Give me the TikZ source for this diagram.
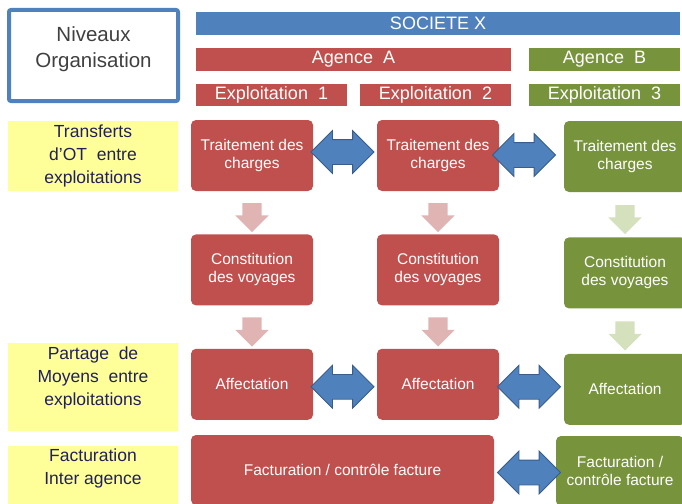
\documentclass[tikz,border=0pt]{standalone}
\usepackage{fontspec}
\setmainfont{Liberation Sans}
\usepackage{xcolor}
\usepackage{tikz}
\usetikzlibrary{positioning}
\usetikzlibrary{calc}
\usetikzlibrary{shapes}
\usetikzlibrary{shapes.arrows}

\definecolor{rouge}{HTML}{C0504D}
\definecolor{vert}{HTML}{77933C}
\definecolor{bleu}{HTML}{4F81BD}
\definecolor{bleufonce}{HTML}{385D8A}
\definecolor{rose}{HTML}{E0B4B3}
\definecolor{vertpale}{HTML}{D4E1BC}
\definecolor{jaune}{HTML}{FFFF99}
\definecolor{marine}{HTML}{20205F}
\definecolor{gris}{HTML}{404040}

\begin{document}
\begin{tikzpicture}[x=1pt,y=-1pt, node distance=43pt and 64pt,
  bloc/.style={rectangle, rounded corners=5pt, minimum width=122pt, minimum height=71pt, inner sep=2pt, text=white, align=center, font=\fontsize{15.5}{18}\selectfont},
  rougebloc/.style={bloc, fill=rouge},
  vertbloc/.style={bloc, fill=vert},
  barre/.style={rectangle, minimum height=23pt, inner sep=0pt, text=white, font=\fontsize{18}{20}\selectfont},
  niveau/.style={rectangle, fill=jaune, minimum width=170pt, inner sep=0pt},
  niveautexte/.style={text=marine, align=center, font=\fontsize{17.5}{23}\selectfont},
  fleche/.style={double arrow, fill=bleu, draw=bleufonce, line width=0.8pt, minimum height=63pt, minimum width=42pt, double arrow head extend=9pt, inner sep=12pt},
  descente/.style={single arrow, shape border rotate=270, minimum height=29pt, minimum width=33pt, single arrow head extend=7pt, inner sep=9.5pt}]
\path[use as bounding box, clip] (0,0) rectangle (682,503);

\node[draw=bleu, line width=4pt, rounded corners=2pt, minimum width=169pt, minimum height=91pt] (niv) at (93.5,55.5) {};
\node[text=gris, align=center, font=\fontsize{20.5}{26}\selectfont] (nivtexte) at (93.5,49) {Niveaux\\Organisation};

\node[barre, fill=bleu, minimum width=484pt] (sx) at (438,23.5) {SOCIETE X};
\node[barre, fill=rouge, minimum width=315pt] (aga) at (353.5,59.5) {Agence\ \ A};
\node[barre, fill=vert, minimum width=151pt] (agb) at (604.5,59.5) {Agence\ \ B};
\node[barre, fill=rouge, minimum width=151pt, minimum height=22pt] (ex1) at (271.5,95) {Exploitation\ \ 1};
\node[barre, fill=rouge, minimum width=151pt, minimum height=22pt] (ex2) at (435.5,95) {Exploitation\ \ 2};
\node[barre, fill=vert, minimum width=151pt, minimum height=22pt] (ex3) at (604.5,95) {Exploitation\ \ 3};

\node[niveau, minimum height=70pt] (y1) at (93,156) {};
\node[niveautexte] (n1) at (y1.center) {Transferts\\d’OT\ \ entre\\exploitations};
\node[niveau, minimum height=88pt] (y2) at (93,387) {};
\node[niveautexte] (n2) at (93,378) {Partage\ \ de\\Moyens\ \ entre\\exploitations};
\node[niveau, minimum height=64pt] (y3) at (93,478) {};
\node[niveautexte] (n3) at (93,468.5) {Facturation\\Inter agence};

\node[rougebloc] (t1) at (252,155.5) {Traitement des\\charges};
\node[rougebloc] (t2) at (438,155.5) {Traitement des\\charges};
\node[vertbloc] (t3) at (625,156.5) {Traitement des\\charges};
\node[rougebloc, below=of t1] (c1) {Constitution\\des voyages};
\node[rougebloc, below=of t2] (c2) {Constitution\\des voyages};
\node[vertbloc, below=45pt of t3] (c3) {Constitution\\des voyages};
\node[rougebloc, below=of c1] (a1) {Affectation};
\node[rougebloc, below=of c2] (a2) {Affectation};
\node[vertbloc, below=45pt of c3] (a3) {Affectation};
\node[rougebloc, minimum width=303pt, minimum height=70pt] (f1) at (342.5,470) {Facturation / contrôle facture};
\node[vertbloc, minimum width=128pt, minimum height=70pt] (f2) at (620,471) {Facturation /\\contrôle facture};

\node[descente, fill=rose] (d1) at ($(t1.south)!0.5!(c1.north)$) {};
\node[descente, fill=rose] (d2) at ($(t2.south)!0.5!(c2.north)$) {};
\node[descente, fill=vertpale] (d3) at ($(t3.south)!0.5!(c3.north)$) {};
\node[descente, fill=rose] (d4) at ($(c1.south)!0.5!(a1.north)$) {};
\node[descente, fill=rose] (d5) at ($(c2.south)!0.5!(a2.north)$) {};
\node[descente, fill=vertpale] (d6) at ($(c3.south)!0.5!(a3.north)$) {};

\node[fleche, xshift=-2.5pt, yshift=3.5pt] (h1) at ($(t1.east)!0.5!(t2.west)$) {};
\node[fleche, xshift=-7.5pt, yshift=1pt] (h2) at ($(t2.east)!0.5!(t3.west)$) {};
\node[fleche, xshift=-2.5pt, yshift=-2.5pt] (h3) at ($(a1.east)!0.5!(a2.west)$) {};
\node[fleche, xshift=-2.5pt] (h4) at ($(a2.east)!0.5!(a3.west)$) {};
\node[fleche, xshift=4pt, yshift=-2pt] (h5) at ($(f1.east)!0.5!(f2.west)$) {};
\end{tikzpicture}
\end{document}
